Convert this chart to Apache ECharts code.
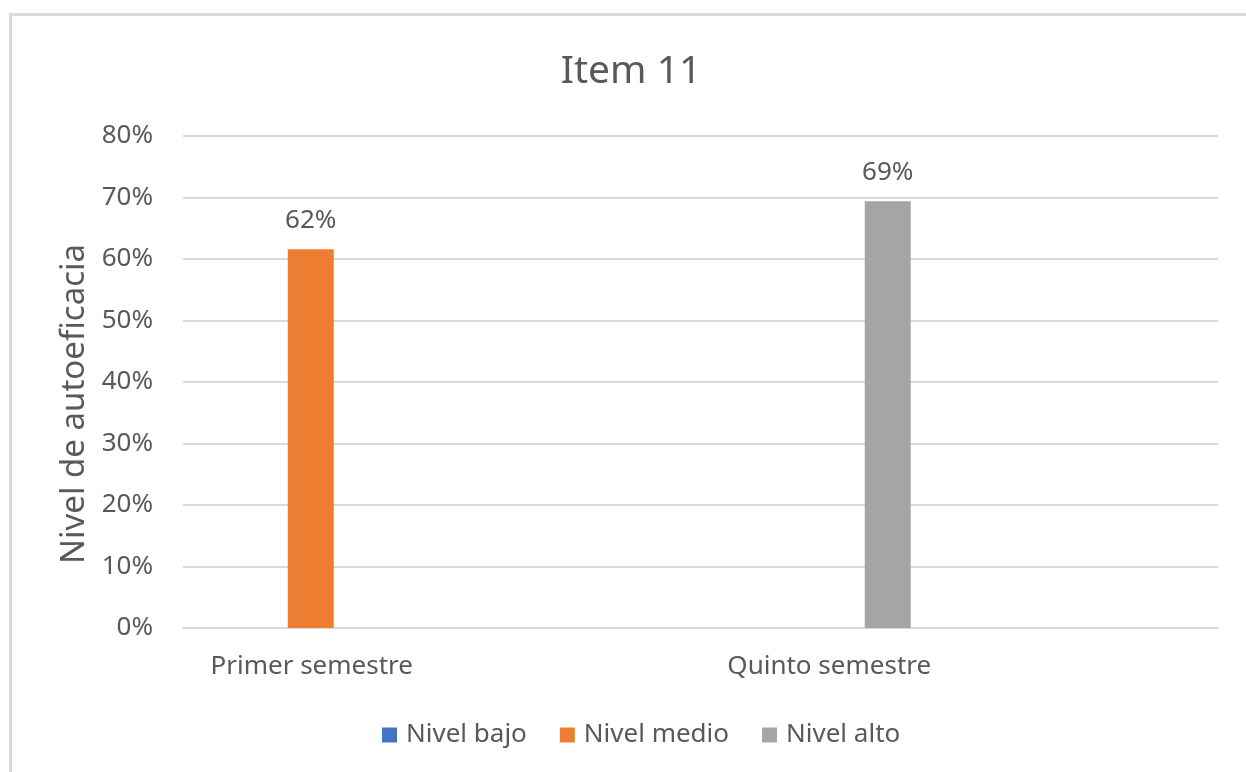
<!DOCTYPE html>
<html>
<head>
<meta charset="utf-8">
<script src="https://cdn.jsdelivr.net/npm/echarts@6/dist/echarts.min.js"></script>
<style>
html,body{margin:0;padding:0;background:#fff;}
#c{width:1246px;height:772px;}
</style>
</head>
<body>
<div id="c"></div>
<script>
// ---- data ----
const title = 'Item 11';
const categories = ['Primer semestre', 'Quinto semestre'];
const seriesNames = ['Nivel bajo', 'Nivel medio', 'Nivel alto'];
const nivelBajo = [null, null];
const nivelMedio = [0.616, null];
const nivelAlto = [null, 0.694];
const yTicks = [0, 0.1, 0.2, 0.3, 0.4, 0.5, 0.6, 0.7, 0.8];
const yAxisName = 'Nivel de autoeficacia';

// ---- styles ----
const FONT = '"Noto Sans", "Open Sans", sans-serif';
const TXT = '#595959';
const GRIDC = '#d9d9d9';
const colors = ['#4472C4', '#ED7D31', '#A5A5A5'];
const pct = v => Math.round(v * 100) + '%';

const BAR_W = 46;
const GAP = '29.35%';

function barSeries(name, data, color) {
  return {
    name, type: 'bar', data,
    barWidth: BAR_W, barGap: GAP,
    itemStyle: { color },
    label: {
      show: true, position: 'top', distance: 16,
      formatter: p => (p.value == null ? '' : pct(p.value)),
      fontFamily: FONT, fontSize: 26, color: TXT
    }
  };
}

const chart = echarts.init(document.getElementById('c'), null, { renderer: 'canvas' });
chart.setOption({
  animation: false,
  backgroundColor: '#fff',
  textStyle: { fontFamily: FONT },
  title: {
    text: title, left: 626, top: 47, textAlign: 'center',
    textStyle: { fontFamily: FONT, fontSize: 39, fontWeight: 'normal', color: TXT }
  },
  legend: {
    data: seriesNames,
    left: 377, top: 717,
    itemWidth: 15, itemHeight: 15, itemGap: 33,
    icon: 'rect',
    textStyle: { fontFamily: FONT, fontSize: 26, color: TXT, padding: [0, 0, 0, 4] }
  },
  grid: { left: 183, right: 28, top: 136, bottom: 144 },
  xAxis: {
    type: 'category', data: categories,
    axisLine: { lineStyle: { color: GRIDC, width: 2 } },
    axisTick: { show: false },
    axisLabel: {
      interval: 0, margin: 26,
      fontFamily: FONT, fontSize: 26, color: TXT,
      padding: [0, 260, 0, 0]
    }
  },
  yAxis: {
    type: 'value', min: yTicks[0], max: yTicks[yTicks.length - 1], interval: 0.1,
    name: yAxisName, nameLocation: 'middle', nameRotate: 90, nameGap: 75,
    nameTextStyle: { fontFamily: FONT, fontSize: 33, color: TXT, padding: [0, 44, 0, 0] },
    axisLine: { show: false },
    axisTick: { show: false },
    splitLine: { lineStyle: { color: GRIDC, width: 2 } },
    axisLabel: { formatter: pct, margin: 30, fontFamily: FONT, fontSize: 26, color: TXT }
  },
  graphic: [
    { type: 'rect', shape: { x: 9, y: 13, width: 1246, height: 3 }, style: { fill: GRIDC }, silent: true },
    { type: 'rect', shape: { x: 9, y: 13, width: 3, height: 772 }, style: { fill: GRIDC }, silent: true }
  ],
  series: [
    barSeries(seriesNames[0], nivelBajo, colors[0]),
    barSeries(seriesNames[1], nivelMedio, colors[1]),
    barSeries(seriesNames[2], nivelAlto, colors[2]),
    // invisible spacer series that reproduces the empty slot positions of the original grouped layout
    { name: '', type: 'bar', data: [null, null], barWidth: 248.5, barGap: GAP, silent: true,
      itemStyle: { color: 'rgba(0,0,0,0)' }, tooltip: { show: false } }
  ]
});
</script>
</body>
</html>
